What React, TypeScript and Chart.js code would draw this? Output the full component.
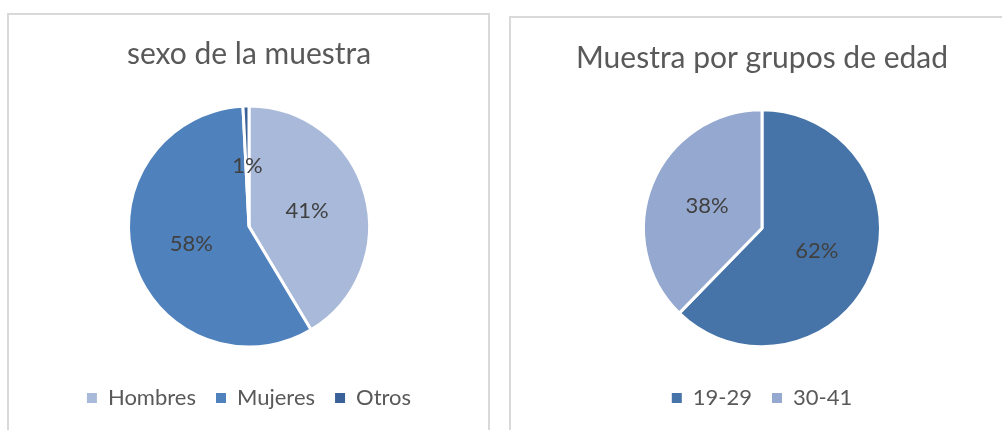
import React, { useEffect, useRef } from "react";
import { Chart, registerables } from "chart.js";

Chart.register(...registerables);

// ---- data ----
const sexTitle = "sexo de la muestra";
const sexLabels = ["Hombres", "Mujeres", "Otros"];
const sexValues = [41.4, 57.8, 0.8];
const sexColors = ["#A9B9D9", "#4F81BD", "#3A6198"];

const ageTitle = "Muestra por grupos de edad";
const ageLabels = ["19-29", "30-41"];
const ageValues = [62.3, 37.7];
const ageColors = ["#4674A8", "#95A8CF"];

const FONT = "Lato, 'Open Sans', sans-serif";

const pctLabels = {
  id: "pctLabels",
  afterDatasetsDraw(chart: any) {
    const ctx = chart.ctx;
    const vals = chart.data.datasets[0].data as number[];
    const total = vals.reduce((a: number, b: number) => a + b, 0);
    const meta = chart.getDatasetMeta(0);
    ctx.save();
    ctx.font = `22px ${FONT}`;
    ctx.fillStyle = "#404040";
    ctx.textAlign = "center";
    ctx.textBaseline = "middle";
    meta.data.forEach((arc: any, i: number) => {
      const p = arc.tooltipPosition(false);
      ctx.fillText(Math.round((vals[i] / total) * 100) + "%", p.x, p.y);
    });
    ctx.restore();
  },
};

type PieProps = {
  title: string;
  labels: string[];
  values: number[];
  colors: string[];
  left: number;
  top: number;
  width: number;
  height: number;
  radius: number;
  titlePadTop: number;
  titlePadBottom: number;
};

function PieChart(p: PieProps) {
  const ref = useRef<HTMLCanvasElement | null>(null);
  useEffect(() => {
    if (!ref.current) return;
    const chart = new Chart(ref.current, {
      type: "pie",
      data: {
        labels: p.labels,
        datasets: [
          {
            data: p.values,
            backgroundColor: p.colors,
            borderColor: "#FFFFFF",
            borderWidth: 3,
            radius: p.radius,
          } as any,
        ],
      },
      options: {
        responsive: false,
        animation: false,
        devicePixelRatio: 1,
        layout: { padding: { left: 0, right: 0, top: 0, bottom: 11 } },
        plugins: {
          title: {
            display: true,
            text: p.title,
            color: "#595959",
            font: { family: FONT, size: 30, weight: "normal" as any, lineHeight: 1.2 },
            padding: { top: p.titlePadTop, bottom: p.titlePadBottom },
          },
          legend: {
            position: "bottom",
            labels: {
              color: "#595959",
              font: { family: FONT, size: 22 },
              boxWidth: 10,
              boxHeight: 10,
              padding: 20,
              generateLabels: (chart: any) => {
                const base = (Chart as any).overrides.pie.plugins.legend.labels.generateLabels(chart);
                return base.map((l: any) => ({ ...l, lineWidth: 0, strokeStyle: l.fillStyle }));
              },
            },
          },
          tooltip: { enabled: false },
        },
      },
      plugins: [pctLabels],
    });
    return () => chart.destroy();
  }, []);
  return (
    <canvas
      ref={ref}
      width={p.width}
      height={p.height}
      style={{ position: "absolute", left: p.left, top: p.top, width: p.width, height: p.height }}
    />
  );
}

export default function App() {
  return (
    <div
      style={{
        position: "fixed",
        left: 0,
        top: 0,
        width: 1002,
        height: 430,
        overflow: "hidden",
        background: "#FFFFFF",
      }}
    >
      <div
        style={{
          position: "absolute",
          left: 7,
          top: 13,
          width: 483,
          height: 440,
          border: "2px solid #D9D9D9",
          boxSizing: "border-box",
        }}
      />
      <div
        style={{
          position: "absolute",
          left: 509,
          top: 16,
          width: 520,
          height: 440,
          border: "2px solid #D9D9D9",
          boxSizing: "border-box",
        }}
      />
      <PieChart
        title={sexTitle}
        labels={sexLabels}
        values={sexValues}
        colors={sexColors}
        left={9}
        top={15}
        width={480}
        height={415}
        radius={120.5}
        titlePadTop={21}
        titlePadBottom={14}
      />
      <PieChart
        title={ageTitle}
        labels={ageLabels}
        values={ageValues}
        colors={ageColors}
        left={511}
        top={18}
        width={502}
        height={412}
        radius={118.5}
        titlePadTop={22}
        titlePadBottom={13.6}
      />
    </div>
  );
}
